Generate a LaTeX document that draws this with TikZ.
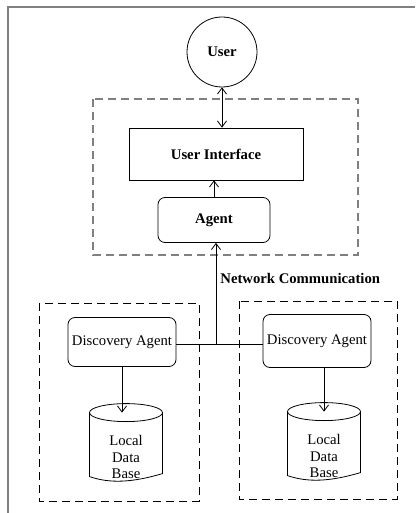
\documentclass[tikz,border=0pt]{standalone}
\usepackage{fontspec}
\setmainfont{Liberation Serif}
\usetikzlibrary{arrows.meta}

\newcommand\labelsize{\fontsize{14.7}{16.5}\selectfont}

\begin{document}
\begin{tikzpicture}[x=1pt, y=-1pt, line width=0.8pt,
    >={Straight Barb[length=6pt,width=9pt]},
    every node/.style={font=\labelsize, inner sep=0pt},
    heavy/.style={font=\labelsize\bfseries},
    plainbox/.style={draw, rectangle},
    agentbox/.style={draw, rectangle, rounded corners=7pt},
    store/.style={align=center, minimum width=73pt, minimum height=88pt},
    groupbox/.style={draw, dash pattern=on 8pt off 5pt}]
  \useasboundingbox (0,0) rectangle (415,513);
  % Frame, only its top and left edges.
  \draw[gray, line width=2pt] (8,513) -- (8,7) -- (415,7);

  % Front end: user, interface and agent.
  \draw[groupbox, gray, line width=1.4pt] (93,99) rectangle (358,255);
  \node[draw, circle, minimum size=70pt, heavy] (user) at (222,52) {User};
  \node[plainbox, heavy, minimum width=174pt, minimum height=52pt] (ui) at (216,154) {User Interface};
  \node[agentbox, heavy, minimum width=112pt, minimum height=45pt] (agent) at (214,220) {Agent};
  \draw[<->] (user.south) -- (user.south |- ui.north);
  \draw[->] (agent.north) -- (agent.north |- ui.south);

  % Two remote sites, each with its own store.
  \draw[groupbox] (39,303) rectangle (199,501);
  \draw[groupbox] (239,301) rectangle (397,499);
  \node[agentbox, minimum width=108pt, minimum height=49pt] (daL) at (122,342) {Discovery Agent};
  \node[agentbox, minimum width=108pt, minimum height=53pt] (daR) at (317,341) {Discovery Agent};
  \node[store] (dbL) at (126,457) {Local\\Data\\Base};
  \node[store] (dbR) at (324,456) {Local\\Data\\Base};
  \foreach \db in {dbL,dbR} {
    \begin{scope}[shift={(\db.north)}]
      \draw (0,0) ellipse (36.5 and 9);
      \draw (-36.5,0) -- (-36.5,64)
        .. controls (-16,71) and (6,70) .. (36.5,61) -- (36.5,0);
    \end{scope}
  }
  \draw[->] (daL.south) -- (daL.south |- dbL.north);
  \draw[->] (dbR.north |- daR.south) -- (dbR.north);

  % Network link between the sites and the agent.
  \coordinate (hub) at (216,344);
  \draw (daL.east |- hub) -- (daR.west |- hub);
  \draw[->] (hub) -- (hub |- agent.south);
  \node[heavy, anchor=west] (net) at (220,278) {Network Communication};
\end{tikzpicture}
\end{document}
